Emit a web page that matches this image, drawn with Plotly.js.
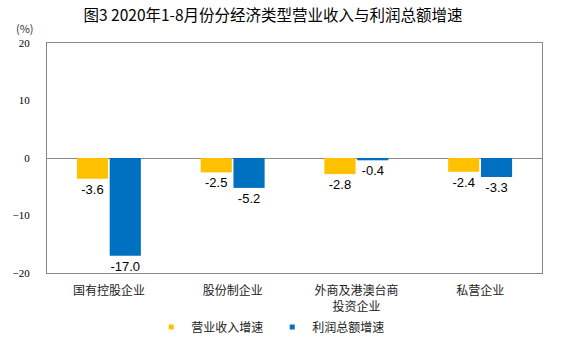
<!DOCTYPE html>
<html><head><meta charset="utf-8">
<script src="https://cdn.plot.ly/plotly-3.0.1.min.js"></script>
<style>body{margin:0;}#c{width:563px;height:353px;}</style>
</head><body><div id="c"></div>
<script>
const categories = ['国有控股企业', '股份制企业', '外商及港澳台商<br>投资企业', '私营企业'];
const revenueGrowth = [-3.6, -2.5, -2.8, -2.4];
const profitGrowth = [-17.0, -5.2, -0.4, -3.3];
const seriesNames = ['营业收入增速', '利润总额增速'];
const seriesColors = ['#FFC000', '#0070C0'];
const tickVals = [-20, -10, 0, 10, 20];

const cjk = '"Noto Sans CJK SC", "Noto Sans", sans-serif';
const labelFont = {family: '"Liberation Sans", Arial, sans-serif', size: 13, color: '#000'};

const traces = [
  {type: 'bar', name: seriesNames[0], x: categories, y: revenueGrowth, showlegend: false,
   marker: {color: seriesColors[0]}, text: revenueGrowth.map(v => v.toFixed(1)),
   textposition: 'outside', textfont: labelFont, cliponaxis: false},
  {type: 'bar', name: seriesNames[1], x: categories, y: profitGrowth, showlegend: false,
   marker: {color: seriesColors[1]}, text: profitGrowth.map(v => v.toFixed(1)),
   textposition: 'outside', textfont: labelFont, cliponaxis: false},
  // legend entries with small square markers
  {type: 'scatter', mode: 'markers', name: seriesNames[0], x: [null], y: [null],
   marker: {symbol: 'square', size: 5, color: seriesColors[0]}},
  {type: 'scatter', mode: 'markers', name: seriesNames[1], x: [null], y: [null],
   marker: {symbol: 'square', size: 5, color: seriesColors[1]}}
];

const layout = {
  width: 563, height: 353,
  margin: {l: 47, r: 21, t: 43, b: 80},
  paper_bgcolor: '#fff', plot_bgcolor: '#fff',
  barmode: 'group', bargap: 0.47, bargroupgap: 0.05,
  title: {text: '图3 2020年1-8月份分经济类型营业收入与利润总额增速',
          x: 0.485, xanchor: 'center', y: 0.957, yanchor: 'middle',
          font: {family: cjk, size: 15.5, color: '#000'}},
  xaxis: {showline: true, mirror: true, linecolor: '#888', linewidth: 1,
          ticks: '', ticklabelstandoff: 7, tickfont: {family: cjk, size: 12, color: '#222'},
          fixedrange: true},
  yaxis: {range: [-20, 20], tickvals: tickVals, showgrid: false,
          zeroline: true, zerolinecolor: '#888', zerolinewidth: 1,
          showline: true, mirror: true, linecolor: '#888', linewidth: 1,
          ticks: '', ticklabelstandoff: 14,
          tickfont: {family: '"Liberation Serif", "Times New Roman", serif', size: 11, color: '#000'}},
  showlegend: true,
  legend: {orientation: 'h', x: 0.455, xanchor: 'center', y: -0.235, yanchor: 'middle',
           font: {family: cjk, size: 12, color: '#222'}, itemwidth: 30, traceorder: 'normal',
           entrywidth: 76, entrywidthmode: 'pixels'},
  annotations: [{text: '(%)', xref: 'paper', yref: 'paper', x: -0.044, y: 1.065,
                 xanchor: 'center', yanchor: 'middle', showarrow: false,
                 font: {family: cjk, size: 11, color: '#333'}}]
};

Plotly.newPlot('c', traces, layout, {displayModeBar: false, staticPlot: true});
</script>
</body></html>
